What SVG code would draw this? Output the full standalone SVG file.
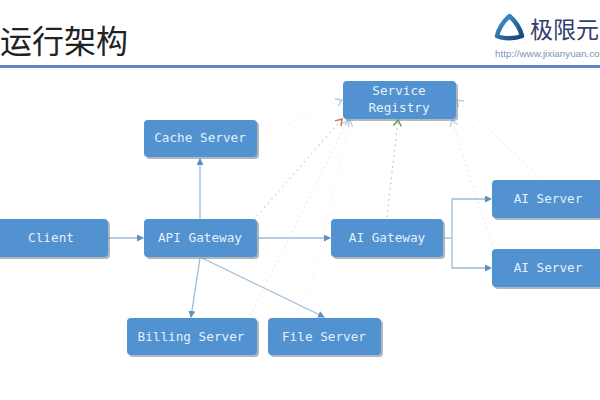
<svg xmlns="http://www.w3.org/2000/svg" width="600" height="400" viewBox="0 0 600 400">
  <style>
    .box { fill: #5292d0; }
    .shade { fill: #7d8a96; opacity: .6; filter: url(#soft); }
    .label { font-family: "DejaVu Sans Mono", "Liberation Mono", monospace; font-size: 12.7px; fill: #e4f0fa; text-anchor: middle; }
    .flow { fill: none; stroke: #9dbbdb; stroke-width: 1.3; }
    .dot { fill: none; stroke-width: 1.3; stroke-dasharray: 1.5 4; }
    .heading { font-family: "Noto Sans CJK SC", sans-serif; font-size: 32px; fill: #222; }
  </style>
  <defs>
    <filter id="soft" x="-5%" y="-10%" width="110%" height="120%">
      <feGaussianBlur stdDeviation="0.7"/>
    </filter>
    <marker id="tip" markerWidth="8" markerHeight="8" refX="6" refY="3.5" orient="auto" markerUnits="userSpaceOnUse">
      <path d="M0 0L7 3.5L0 7z" fill="#5f8fc4"/>
    </marker>
    <marker id="openBlue" markerWidth="9" markerHeight="10" refX="7" refY="5" orient="auto" markerUnits="userSpaceOnUse">
      <path d="M1 1L7 5L1 9" fill="none" stroke="#b4cbe2" stroke-width="1.3"/>
    </marker>
    <marker id="openRed" markerWidth="9" markerHeight="10" refX="7" refY="5" orient="auto" markerUnits="userSpaceOnUse">
      <path d="M1 1L7 5L1 9" fill="none" stroke="#d9714a" stroke-width="1.5"/>
    </marker>
    <marker id="openGreen" markerWidth="9" markerHeight="10" refX="7" refY="5" orient="auto" markerUnits="userSpaceOnUse">
      <path d="M1 1L7 5L1 9" fill="none" stroke="#6b9a5a" stroke-width="1.5"/>
    </marker>
    <linearGradient id="logoFill" x1="0" y1="0" x2="1" y2="1">
      <stop offset="0" stop-color="#3f9ed0"/>
      <stop offset="1" stop-color="#16407e"/>
    </linearGradient>
  </defs>
  <rect width="600" height="400" fill="#fff"/>

  <!-- page header -->
  <text class="heading" x="0" y="53">运行架构</text>
  <rect x="0" y="65" width="600" height="3" fill="#5f86c6"/>
  <g id="logo">
    <path d="M509.500 16C514 20 520 28 522 36C515 39 503 39 497 36C499 28 505 20 509.500 16Z" fill="none" stroke="url(#logoFill)" stroke-width="4.500" stroke-linejoin="round"/>
    <text x="530" y="38" font-family="'Noto Sans CJK SC', sans-serif" font-size="23" fill="#33406f">极限元</text>
    <text x="495" y="57" font-family="'Liberation Sans', sans-serif" font-size="9.800" fill="#7b93b5">http://www.jixianyuan.co</text>
  </g>

  <!-- connectors -->
  <g id="connectors">
    <path class="flow" marker-end="url(#tip)" d="M108 238H143"/>
    <path class="flow" marker-end="url(#tip)" d="M200 219V159"/>
    <path class="flow" marker-end="url(#tip)" d="M200 258L191 317"/>
    <path class="flow" marker-end="url(#tip)" d="M202 258L324 317"/>
    <path class="flow" marker-end="url(#tip)" d="M258 238H330"/>
    <path class="flow" d="M444 238H452"/>
    <path class="flow" marker-end="url(#tip)" d="M452 238V199H491"/>
    <path class="flow" marker-end="url(#tip)" d="M452 238V268H491"/>
    <path class="dot" stroke="#eef0f2" marker-end="url(#openBlue)" d="M258 137L342 100"/>
    <path class="dot" stroke="#ecc9b4" marker-end="url(#openRed)" d="M257 216L342 119"/>
    <path class="dot" stroke="#e6e9ec" marker-end="url(#openBlue)" d="M250 316L348 120"/>
    <path class="dot" stroke="#eef0f2" marker-end="url(#openBlue)" d="M304 316L350 120"/>
    <path class="dot" stroke="#b9c4b8" marker-end="url(#openGreen)" d="M387 217L398 120"/>
    <path class="dot" stroke="#e8eaec" marker-end="url(#openBlue)" d="M492 245L452 120"/>
    <path class="dot" stroke="#eceef0" marker-end="url(#openBlue)" d="M540 178L457 100"/>
  </g>

  <!-- nodes -->
  <g id="service-registry">
    <rect class="shade" x="345" y="83" width="113" height="38" rx="4"/>
    <rect class="box" x="343" y="81" width="113" height="38" rx="4"/>
    <text class="label" x="399" y="95">Service</text>
    <text class="label" x="399" y="112">Registry</text>
  </g>
  <g id="cache-server">
    <rect class="shade" x="146" y="122" width="113" height="37" rx="4"/>
    <rect class="box" x="144" y="120" width="113" height="37" rx="4"/>
    <text class="label" x="200" y="142">Cache Server</text>
  </g>
  <g id="client">
    <rect class="shade" x="-6" y="221" width="116" height="38" rx="4"/>
    <rect class="box" x="-8" y="219" width="116" height="38" rx="4"/>
    <text class="label" x="51" y="242">Client</text>
  </g>
  <g id="api-gateway">
    <rect class="shade" x="146" y="221" width="113" height="38" rx="4"/>
    <rect class="box" x="144" y="219" width="113" height="38" rx="4"/>
    <text class="label" x="200" y="242">API Gateway</text>
  </g>
  <g id="ai-gateway">
    <rect class="shade" x="333" y="221" width="112" height="38" rx="4"/>
    <rect class="box" x="331" y="219" width="112" height="38" rx="4"/>
    <text class="label" x="387" y="242">AI Gateway</text>
  </g>
  <g id="ai-server-1">
    <rect class="shade" x="494" y="182" width="116" height="38" rx="4"/>
    <rect class="box" x="492" y="180" width="116" height="38" rx="4"/>
    <text class="label" x="548" y="203">AI Server</text>
  </g>
  <g id="ai-server-2">
    <rect class="shade" x="494" y="251" width="116" height="38" rx="4"/>
    <rect class="box" x="492" y="249" width="116" height="38" rx="4"/>
    <text class="label" x="548" y="272">AI Server</text>
  </g>
  <g id="billing-server">
    <rect class="shade" x="129" y="320" width="130" height="37" rx="4"/>
    <rect class="box" x="127" y="318" width="130" height="37" rx="4"/>
    <text class="label" x="191" y="341">Billing Server</text>
  </g>
  <g id="file-server">
    <rect class="shade" x="270" y="320" width="113" height="37" rx="4"/>
    <rect class="box" x="268" y="318" width="113" height="37" rx="4"/>
    <text class="label" x="324" y="341">File Server</text>
  </g>
</svg>
